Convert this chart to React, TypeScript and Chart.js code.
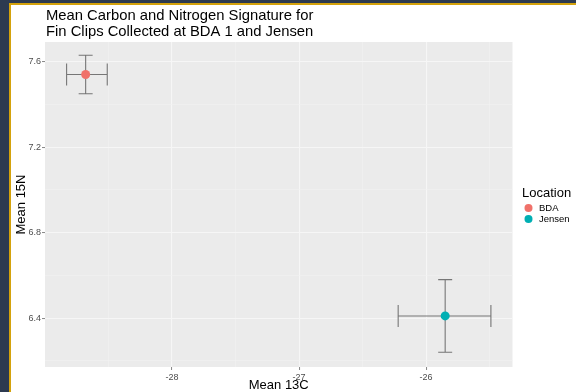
import React, { useEffect, useRef } from "react";
import { Chart, registerables } from "chart.js";

Chart.register(...registerables);

const locations = ["BDA", "Jensen"];
const colors = ["#F0716A", "#00AFB3"];
const meanC = [-28.68, -25.85];
const meanN = [7.54, 6.41];
const cLow = [-28.83, -26.22];
const cHigh = [-28.51, -25.49];
const nLow = [7.45, 6.24];
const nHigh = [7.63, 6.58];
const xTicks = [-28.5, -28, -27.5, -27, -26.5, -26, -25.5];
const xMajor = [-28, -27, -26];
const yTicks = [6.2, 6.4, 6.6, 6.8, 7.0, 7.2, 7.4, 7.6];
const yMajor = [6.4, 6.8, 7.2, 7.6];
const titleLines = ["Mean Carbon and Nitrogen Signature for", "Fin Clips Collected at BDA 1 and Jensen"];
const xTitle = "Mean 13C";
const yTitle = "Mean 15N";
const legendTitle = "Location";

const FONT = "'Liberation Sans', Arial, sans-serif";
const isMajor = (list: number[], v: number) => list.some((m) => Math.abs(m - v) < 1e-6);

export default function App() {
  const ref = useRef<HTMLCanvasElement | null>(null);
  useEffect(() => {
    if (!ref.current) return;
    const decor = {
      id: "decor",
      beforeDraw(chart: any) {
        const { ctx, chartArea: a } = chart;
        ctx.save();
        ctx.fillStyle = "#ffffff";
        ctx.fillRect(0, 0, chart.width, chart.height);
        ctx.fillStyle = "#EBEBEB";
        ctx.fillRect(a.left, a.top, a.right - a.left, a.bottom - a.top);
        ctx.restore();
      },
      beforeDatasetsDraw(chart: any) {
        const { ctx } = chart;
        const xs = chart.scales.x;
        const ys = chart.scales.y;
        ctx.save();
        ctx.strokeStyle = "#767676";
        ctx.lineWidth = 1.1;
        for (let i = 0; i < locations.length; i++) {
          const cx = xs.getPixelForValue(meanC[i]);
          const cy = ys.getPixelForValue(meanN[i]);
          const x0 = xs.getPixelForValue(cLow[i]);
          const x1 = xs.getPixelForValue(cHigh[i]);
          const y0 = ys.getPixelForValue(nLow[i]);
          const y1 = ys.getPixelForValue(nHigh[i]);
          ctx.beginPath();
          ctx.moveTo(x0, cy); ctx.lineTo(x1, cy);
          ctx.moveTo(x0, cy - 11); ctx.lineTo(x0, cy + 11);
          ctx.moveTo(x1, cy - 11); ctx.lineTo(x1, cy + 11);
          ctx.moveTo(cx, y0); ctx.lineTo(cx, y1);
          ctx.moveTo(cx - 7, y0); ctx.lineTo(cx + 7, y0);
          ctx.moveTo(cx - 7, y1); ctx.lineTo(cx + 7, y1);
          ctx.stroke();
        }
        ctx.restore();
      },
      afterDraw(chart: any) {
        const { ctx, chartArea: a } = chart;
        ctx.save();
        // frame
        ctx.fillStyle = "#2D3A50";
        ctx.fillRect(0, 0, 9, chart.height);
        ctx.fillRect(0, 0, chart.width, 3);
        ctx.fillStyle = "#D4A20C";
        ctx.fillRect(9, 3, 2, chart.height - 3);
        ctx.fillRect(9, 3, chart.width - 9, 2);
        // title
        ctx.fillStyle = "#000000";
        ctx.font = `14.8px ${FONT}`;
        ctx.textAlign = "left";
        ctx.textBaseline = "alphabetic";
        ctx.fillText(titleLines[0], 46, 20);
        ctx.fillText(titleLines[1], 46, 36);
        // axis titles
        ctx.font = `13px ${FONT}`;
        ctx.textAlign = "center";
        ctx.fillText(xTitle, (a.left + a.right) / 2, 389);
        ctx.save();
        ctx.translate(25, (a.top + a.bottom) / 2);
        ctx.rotate(-Math.PI / 2);
        ctx.fillText(yTitle, 0, 0);
        ctx.restore();
        // legend
        ctx.textAlign = "left";
        ctx.font = `13px ${FONT}`;
        ctx.fillText(legendTitle, 522, 197);
        ctx.font = `9.5px ${FONT}`;
        ctx.textBaseline = "middle";
        for (let i = 0; i < locations.length; i++) {
          const y = 208 + i * 11;
          ctx.fillStyle = colors[i];
          ctx.beginPath();
          ctx.arc(528.5, y, 4, 0, Math.PI * 2);
          ctx.fill();
          ctx.fillStyle = "#000000";
          ctx.fillText(locations[i], 539, y + 0.5);
        }
        ctx.restore();
      },
    };

    const chart = new Chart(ref.current, {
      type: "scatter",
      data: {
        datasets: locations.map((loc, i) => ({
          label: loc,
          data: [{ x: meanC[i], y: meanN[i] }],
          backgroundColor: colors[i],
          borderColor: colors[i],
          pointRadius: 4.5,
          pointBorderWidth: 0,
        })),
      },
      options: {
        responsive: false,
        animation: false,
        devicePixelRatio: 1,
        layout: { padding: { left: 0, top: 42, right: 63.5, bottom: 0 } },
        plugins: { legend: { display: false }, title: { display: false }, tooltip: { enabled: false } },
        scales: {
          x: {
            type: "linear",
            min: -29.0,
            max: -25.32,
            afterBuildTicks: (s: any) => { s.ticks = xTicks.map((v) => ({ value: v })); },
            afterFit: (s: any) => { s.height = 25; },
            border: { display: false },
            grid: {
              color: (c: any) => (isMajor(xMajor, c.tick.value) ? "#F6F6F6" : "#F2F2F2"),
              lineWidth: (c: any) => (isMajor(xMajor, c.tick.value) ? 1.1 : 0.6),
              tickColor: (c: any) => (isMajor(xMajor, c.tick.value) ? "#666666" : "rgba(0,0,0,0)"),
              tickLength: 3,
              tickWidth: 0.8,
            },
            ticks: {
              autoSkip: false,
              maxRotation: 0,
              padding: 2,
              color: "#4D4D4D",
              font: { family: FONT, size: 9 },
              callback: (v: any) => (isMajor(xMajor, Number(v)) ? String(Math.round(Number(v))) : ""),
            },
          },
          y: {
            type: "linear",
            min: 6.171,
            max: 7.692,
            afterBuildTicks: (s: any) => { s.ticks = yTicks.map((v) => ({ value: v })); },
            afterFit: (s: any) => { s.width = 45; },
            border: { display: false },
            grid: {
              color: (c: any) => (isMajor(yMajor, c.tick.value) ? "#F6F6F6" : "#F2F2F2"),
              lineWidth: (c: any) => (isMajor(yMajor, c.tick.value) ? 1.1 : 0.6),
              tickColor: (c: any) => (isMajor(yMajor, c.tick.value) ? "#666666" : "rgba(0,0,0,0)"),
              tickLength: 3,
              tickWidth: 0.8,
            },
            ticks: {
              autoSkip: false,
              padding: 1,
              color: "#4D4D4D",
              font: { family: FONT, size: 9 },
              callback: (v: any) => (isMajor(yMajor, Number(v)) ? Number(v).toFixed(1) : ""),
            },
          },
        },
      },
      plugins: [decor],
    } as any);
    return () => chart.destroy();
  }, []);

  return (
    <div style={{ position: "absolute", left: 0, top: 0, width: 576, height: 392 }}>
      <canvas ref={ref} width={576} height={392} style={{ width: 576, height: 392, display: "block" }} />
    </div>
  );
}
